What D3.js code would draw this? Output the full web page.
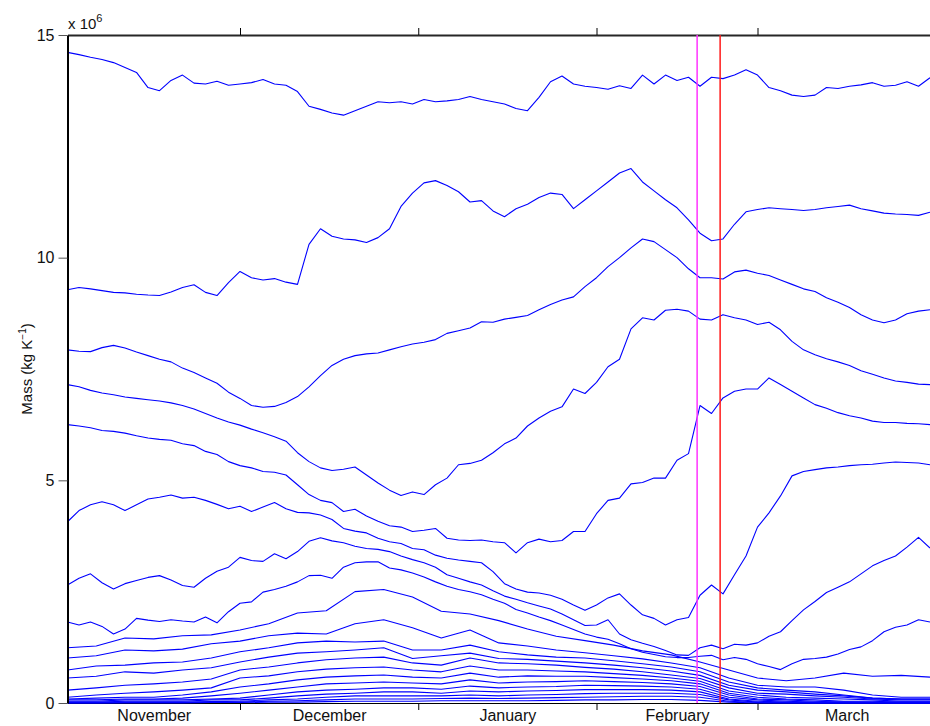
<!DOCTYPE html>
<html>
<head>
<meta charset="utf-8">
<script src="https://cdn.jsdelivr.net/npm/d3@7"></script>
<style>
  html, body { margin: 0; padding: 0; background: #ffffff; }
  svg { display: block; font-family: "Liberation Sans", Arial, Helvetica, sans-serif; }
</style>
</head>
<body>
<svg id="chart" width="930" height="726"></svg>
<script>
// Isentropic layer mass, units of 10^6 kg K^-1.
// Layers with 76 samples are every 2 days, layers with 31 samples every 5 days,
// starting 1 November and ending 31 March.
const layer01 = [14.61, 14.56, 14.5, 14.45, 14.38, 14.27, 14.16, 13.82, 13.75, 13.98,
  14.1, 13.92, 13.9, 13.96, 13.87, 13.9, 13.93, 14.0, 13.9, 13.87,
  13.73, 13.4, 13.33, 13.25, 13.2, 13.3, 13.4, 13.5, 13.48, 13.5,
  13.45, 13.55, 13.5, 13.52, 13.55, 13.62, 13.55, 13.5, 13.45, 13.35,
  13.3, 13.6, 13.95, 14.08, 13.9, 13.85, 13.82, 13.78, 13.86, 13.8,
  14.1, 13.9, 14.1, 13.98, 14.05, 13.85, 14.05, 14.02, 14.1, 14.22,
  14.1, 13.82, 13.75, 13.65, 13.62, 13.65, 13.82, 13.8, 13.85, 13.88,
  13.93, 13.85, 13.87, 13.95, 13.85, 14.04];
const layer02 = [9.28, 9.33, 9.3, 9.26, 9.22, 9.21, 9.18, 9.16, 9.15, 9.23,
  9.33, 9.39, 9.22, 9.15, 9.44, 9.69, 9.55, 9.5, 9.53, 9.45,
  9.4, 10.3, 10.65, 10.48, 10.42, 10.4, 10.34, 10.45, 10.65, 11.15,
  11.45, 11.68, 11.73, 11.62, 11.48, 11.25, 11.28, 11.05, 10.92, 11.1,
  11.2, 11.35, 11.45, 11.42, 11.1, 11.3, 11.5, 11.7, 11.9, 12.0,
  11.7, 11.5, 11.3, 11.12, 10.85, 10.55, 10.38, 10.42, 10.75, 11.03,
  11.08, 11.12, 11.1, 11.08, 11.06, 11.08, 11.12, 11.15, 11.18, 11.1,
  11.05, 11.0, 10.98, 10.97, 10.95, 11.02];
const layer03 = [7.93, 7.9, 7.89, 7.98, 8.03, 7.97, 7.88, 7.8, 7.72, 7.66,
  7.52, 7.42, 7.3, 7.18, 6.98, 6.84, 6.68, 6.64, 6.66, 6.75,
  6.88, 7.1, 7.35, 7.58, 7.72, 7.8, 7.84, 7.86, 7.93, 8.0,
  8.06, 8.1, 8.16, 8.3, 8.36, 8.42, 8.56, 8.55, 8.62, 8.66,
  8.7, 8.83, 8.95, 9.05, 9.12, 9.35, 9.55, 9.8, 10.0, 10.22,
  10.42, 10.36, 10.18, 10.0, 9.75, 9.55, 9.55, 9.52, 9.68, 9.72,
  9.65, 9.6, 9.5, 9.4, 9.3, 9.24, 9.1, 9.0, 8.88, 8.72,
  8.6, 8.54, 8.6, 8.74, 8.8, 8.83];
const layer04 = [7.15, 7.1, 7.02, 6.96, 6.92, 6.87, 6.84, 6.81, 6.78, 6.74,
  6.68, 6.6, 6.5, 6.4, 6.31, 6.24, 6.15, 6.07, 5.98, 5.88,
  5.62, 5.42, 5.28, 5.22, 5.25, 5.3, 5.12, 4.94, 4.78, 4.66,
  4.74, 4.68, 4.9, 5.05, 5.35, 5.38, 5.45, 5.62, 5.82, 5.95,
  6.22, 6.4, 6.55, 6.65, 7.05, 6.95, 7.2, 7.55, 7.72, 8.4,
  8.65, 8.6, 8.82, 8.84, 8.8, 8.62, 8.6, 8.72, 8.65, 8.6,
  8.5, 8.55, 8.38, 8.12, 7.93, 7.82, 7.73, 7.66, 7.58, 7.46,
  7.38, 7.3, 7.23, 7.2, 7.16, 7.15];
const layer05 = [6.25, 6.22, 6.18, 6.12, 6.1, 6.06, 6.0, 5.95, 5.92, 5.9,
  5.82, 5.78, 5.65, 5.58, 5.42, 5.33, 5.28, 5.2, 5.18, 5.12,
  4.9, 4.68, 4.55, 4.5, 4.3, 4.35, 4.2, 4.08, 3.98, 3.95,
  3.85, 3.88, 3.92, 3.7, 3.66, 3.65, 3.66, 3.62, 3.6, 3.37,
  3.6, 3.68, 3.62, 3.65, 3.85, 3.85, 4.25, 4.55, 4.6, 4.92,
  4.95, 5.05, 5.05, 5.45, 5.6, 6.68, 6.5, 6.85, 7.0, 7.05,
  7.05, 7.3, 7.15, 7.0, 6.85, 6.7, 6.62, 6.52, 6.45, 6.4,
  6.33, 6.3, 6.3, 6.28, 6.27, 6.25];
const layer06 = [4.07, 4.32, 4.45, 4.52, 4.45, 4.32, 4.45, 4.58, 4.62, 4.67,
  4.6, 4.62, 4.55, 4.46, 4.36, 4.42, 4.3, 4.4, 4.5, 4.36,
  4.28, 4.27, 4.22, 4.12, 3.92, 3.86, 3.82, 3.7, 3.62, 3.58,
  3.47, 3.44, 3.32, 3.25, 3.21, 3.18, 3.15, 2.95, 2.68, 2.56,
  2.49, 2.47, 2.42, 2.33, 2.2, 2.08, 2.2, 2.36, 2.45, 2.2,
  1.98, 1.9, 1.75, 1.87, 1.92, 2.42, 2.65, 2.45, 2.88, 3.3,
  3.95, 4.27, 4.65, 5.1, 5.2, 5.24, 5.28, 5.3, 5.33, 5.35,
  5.36, 5.39, 5.41, 5.4, 5.39, 5.35];
const layer07 = [2.65, 2.8, 2.9, 2.7, 2.56, 2.68, 2.75, 2.82, 2.86, 2.76,
  2.64, 2.6, 2.8, 2.96, 3.05, 3.27, 3.2, 3.18, 3.35, 3.24,
  3.4, 3.63, 3.71, 3.64, 3.6, 3.52, 3.47, 3.45, 3.4, 3.3,
  3.22, 3.15, 3.05, 2.88, 2.8, 2.72, 2.65, 2.52, 2.4, 2.33,
  2.25, 2.18, 2.11, 2.0, 1.87, 1.74, 1.75, 1.87, 1.55, 1.42,
  1.34, 1.27, 1.18, 1.08, 1.07, 1.24, 1.3, 1.22, 1.32, 1.3,
  1.35, 1.5, 1.6, 1.85, 2.09, 2.28, 2.48, 2.6, 2.72, 2.9,
  3.08, 3.2, 3.3, 3.5, 3.72, 3.48];
const layer08 = [1.82, 1.75, 1.82, 1.72, 1.55, 1.66, 1.9, 1.86, 1.83, 1.87,
  1.84, 1.82, 1.93, 1.8, 2.05, 2.24, 2.27, 2.49, 2.55, 2.62,
  2.72, 2.86, 2.87, 2.8, 3.05, 3.15, 3.17, 3.17, 3.03, 2.99,
  2.92, 2.83, 2.72, 2.62, 2.55, 2.5, 2.43, 2.33, 2.24, 2.1,
  2.02, 1.93, 1.85, 1.75, 1.65, 1.55, 1.48, 1.43, 1.33, 1.22,
  1.14, 1.09, 1.04, 1.02, 1.02, 1.05, 1.07, 0.97, 1.02, 0.98,
  0.88, 0.82, 0.75, 0.88, 0.98, 1.0, 1.03, 1.1, 1.2, 1.26,
  1.4, 1.6, 1.7, 1.75, 1.87, 1.82];
const layer09 = [1.24, 1.28, 1.46, 1.44, 1.51, 1.53, 1.64, 1.78, 2.02, 2.07, 2.5,
  2.55, 2.38, 2.06, 2.0, 1.85, 1.66, 1.5, 1.4, 1.3, 1.17, 1.08, 0.92, 0.74, 0.56,
  0.5, 0.56, 0.67, 0.6, 0.62, 0.58];
const layer10 = [1.01, 1.06, 1.19, 1.17, 1.21, 1.33, 1.39, 1.51, 1.57, 1.55, 1.78,
  1.87, 1.69, 1.46, 1.64, 1.35, 1.28, 1.19, 1.13, 1.06, 0.99, 0.9, 0.79, 0.56, 0.4,
  0.36, 0.36, 0.29, 0.18, 0.13, 0.13];
const layer11 = [0.74, 0.83, 0.85, 0.9, 0.92, 1.01, 1.15, 1.24, 1.35, 1.39, 1.37,
  1.39, 1.19, 1.19, 1.3, 1.15, 1.08, 1.03, 1.01, 0.95, 0.88, 0.81, 0.7, 0.47, 0.34,
  0.29, 0.25, 0.18, 0.11, 0.09, 0.09];
const layer12 = [0.56, 0.6, 0.7, 0.67, 0.74, 0.79, 0.92, 1.03, 1.12, 1.15, 1.19,
  1.24, 1.0, 1.06, 1.12, 1.0, 0.98, 0.94, 0.9, 0.85, 0.79, 0.72, 0.62, 0.4, 0.29,
  0.25, 0.2, 0.16, 0.11, 0.09, 0.09];
const layer13 = [0.29, 0.34, 0.4, 0.43, 0.47, 0.54, 0.74, 0.81, 0.9, 0.97, 1.01,
  1.03, 0.9, 0.85, 1.01, 0.9, 0.88, 0.85, 0.8, 0.76, 0.7, 0.63, 0.55, 0.34, 0.22,
  0.2, 0.16, 0.13, 0.09, 0.07, 0.07];
const layer14 = [0.13, 0.18, 0.22, 0.25, 0.29, 0.34, 0.56, 0.61, 0.7, 0.76, 0.79,
  0.81, 0.74, 0.7, 0.83, 0.74, 0.74, 0.72, 0.7, 0.66, 0.62, 0.56, 0.49, 0.27, 0.18,
  0.13, 0.11, 0.09, 0.07, 0.04, 0.04];
const layer15 = [0.09, 0.11, 0.13, 0.13, 0.18, 0.25, 0.36, 0.43, 0.52, 0.58, 0.61,
  0.63, 0.58, 0.56, 0.67, 0.58, 0.61, 0.6, 0.6, 0.57, 0.54, 0.5, 0.43, 0.22, 0.13,
  0.09, 0.07, 0.04, 0.04, 0.02, 0.02];
const layer16 = [0.07, 0.07, 0.09, 0.09, 0.11, 0.16, 0.22, 0.29, 0.36, 0.43, 0.45,
  0.47, 0.45, 0.43, 0.52, 0.45, 0.47, 0.48, 0.5, 0.48, 0.46, 0.43, 0.37, 0.18, 0.09,
  0.07, 0.04, 0.02, 0.02, 0.02, 0.02];
const layer17 = [0.04, 0.04, 0.07, 0.07, 0.07, 0.09, 0.11, 0.18, 0.25, 0.29, 0.31,
  0.34, 0.34, 0.31, 0.38, 0.34, 0.36, 0.37, 0.4, 0.39, 0.38, 0.36, 0.31, 0.13, 0.07,
  0.04, 0.02, 0.02, 0.01, 0.01, 0.01];
const layer18 = [0.02, 0.02, 0.04, 0.04, 0.04, 0.07, 0.07, 0.11, 0.16, 0.2, 0.22,
  0.25, 0.25, 0.22, 0.27, 0.25, 0.27, 0.28, 0.3, 0.3, 0.3, 0.29, 0.25, 0.09, 0.04,
  0.02, 0.01, 0.01, 0.01, 0, 0];
const layer19 = [0.01, 0.01, 0.02, 0.02, 0.02, 0.03, 0.04, 0.07, 0.09, 0.13, 0.16,
  0.16, 0.16, 0.16, 0.18, 0.16, 0.18, 0.19, 0.21, 0.22, 0.22, 0.22, 0.19, 0.07, 0.02,
  0.01, 0, 0, 0, 0, 0];
const layer20 = [0, 0, 0.01, 0.01, 0.01, 0.02, 0.02, 0.04, 0.05, 0.07, 0.09,
  0.09, 0.09, 0.1, 0.11, 0.1, 0.11, 0.12, 0.13, 0.14, 0.15, 0.15, 0.13, 0.04, 0.01,
  0, 0, 0, 0, 0, 0];
const layer21 = [0, 0, 0, 0, 0, 0.01, 0.01, 0.02, 0.02, 0.03, 0.04,
  0.04, 0.04, 0.05, 0.05, 0.05, 0.05, 0.06, 0.07, 0.07, 0.08, 0.08, 0.06, 0.02, 0,
  0, 0, 0, 0, 0, 0];

const layers = [layer01, layer02, layer03, layer04, layer05, layer06, layer07,
  layer08, layer09, layer10, layer11, layer12, layer13, layer14, layer15,
  layer16, layer17, layer18, layer19, layer20, layer21];

// Time frame and axis annotations
const seriesStart = new Date(Date.UTC(2006, 10, 1));
const seriesEnd = new Date(Date.UTC(2007, 2, 31));
const axisEnd = new Date(Date.UTC(2007, 3, 1));
const monthStarts = [new Date(Date.UTC(2006, 11, 1)), new Date(Date.UTC(2007, 0, 1)),
  new Date(Date.UTC(2007, 1, 1)), new Date(Date.UTC(2007, 2, 1))];
const monthLabels = ["November", "December", "January", "February", "March"];
const monthMids = [new Date(Date.UTC(2006, 10, 16)), new Date(Date.UTC(2006, 11, 16, 12)),
  new Date(Date.UTC(2007, 0, 16, 12)), new Date(Date.UTC(2007, 1, 15)),
  new Date(Date.UTC(2007, 2, 16, 12))];
const yTicks = [0, 5, 10, 15];
const markerTimes = [new Date(Date.UTC(2007, 1, 18, 12)), new Date(Date.UTC(2007, 1, 22, 12))];
const markerColors = ["#ff33ff", "#ff1a1a"];

const svg = d3.select("#chart");
const x = d3.scaleUtc().domain([seriesStart, axisEnd]).range([67.5, 935.75]);
const y = d3.scaleLinear().domain([0, 15]).range([703, 35]);

const spanMs = seriesEnd - seriesStart;
const timeAt = (i, n) => new Date(seriesStart.getTime() + spanMs * i / (n - 1));

// Axes
const gBottom = svg.append("g").attr("transform", "translate(0,703)")
  .call(d3.axisBottom(x).tickValues(monthStarts).tickFormat("").tickSize(7).tickSizeOuter(0));
gBottom.select(".domain").attr("stroke", "#000").attr("stroke-width", 1.2);
gBottom.selectAll(".tick line").attr("stroke", "#000");

const gLabels = svg.append("g").attr("transform", "translate(0,703)")
  .call(d3.axisBottom(x).tickValues(monthMids).tickSize(0).tickPadding(7)
    .tickFormat((d, i) => monthLabels[i]));
gLabels.select(".domain").remove();
gLabels.selectAll("text").attr("font-size", 16).attr("fill", "#111")
  .attr("font-family", "'Liberation Sans', Arial, sans-serif");

const gTop = svg.append("g").attr("transform", "translate(0,35)")
  .call(d3.axisTop(x).tickValues(monthStarts).tickFormat("").tickSize(7).tickSizeOuter(0));
gTop.select(".domain").attr("stroke", "#262626").attr("stroke-width", 2);
gTop.selectAll(".tick line").attr("stroke", "#000");

// Layer curves
const line = d3.line()
  .x((d, i, arr) => x(timeAt(i, arr.length)))
  .y(d => y(d));

svg.append("g")
  .selectAll("path")
  .data(layers)
  .join("path")
  .attr("d", d => line(d))
  .attr("fill", "none")
  .attr("stroke", "#0000ff")
  .attr("stroke-width", 1.1)
  .attr("stroke-linejoin", "round");

// Event markers
svg.append("g")
  .selectAll("line")
  .data(markerTimes)
  .join("line")
  .attr("x1", d => x(d)).attr("x2", d => x(d))
  .attr("y1", y(15)).attr("y2", y(0))
  .attr("stroke", (d, i) => markerColors[i])
  .attr("stroke-width", 1.5);

const gLeft = svg.append("g").attr("transform", "translate(67.5,0)")
  .call(d3.axisLeft(y).tickValues(yTicks).tickSize(9).tickPadding(4).tickSizeOuter(0));
gLeft.select(".domain").attr("stroke", "#000").attr("stroke-width", 2);
gLeft.selectAll(".tick line").attr("stroke", "#555");
gLeft.selectAll("text").attr("font-size", 16).attr("fill", "#111")
  .attr("font-family", "'Liberation Sans', Arial, sans-serif");

// Exponent note
const expo = svg.append("text").attr("x", 68).attr("y", 29)
  .attr("font-size", 15).attr("fill", "#111");
expo.append("tspan").text("x 10");
expo.append("tspan").attr("dy", -7).attr("font-size", 11).text("6");

// Y axis title
const yt = svg.append("text")
  .attr("transform", "translate(32,369) rotate(-90)")
  .attr("text-anchor", "middle")
  .attr("font-size", 15).attr("fill", "#111");
yt.append("tspan").text("Mass (kg K");
yt.append("tspan").attr("dy", -6).attr("font-size", 10).text("\u22121");
yt.append("tspan").attr("dy", 6).text(")");
</script>
</body>
</html>
